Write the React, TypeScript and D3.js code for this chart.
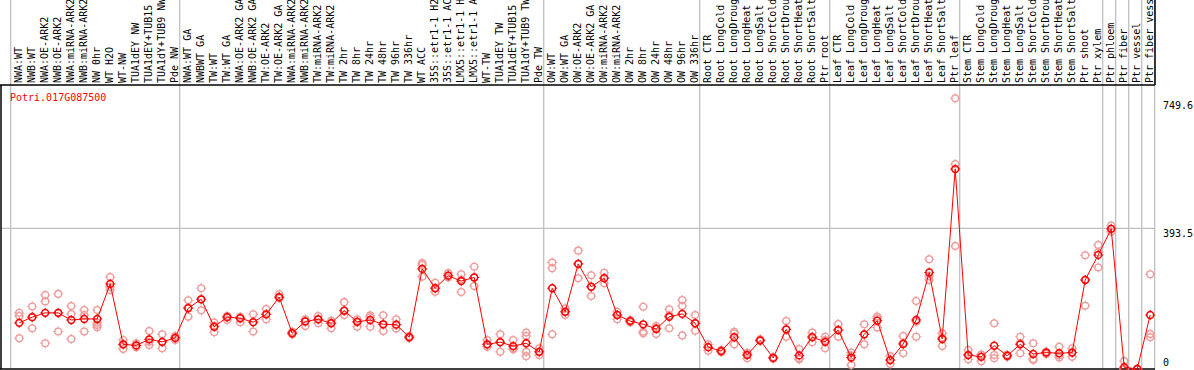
import React from "react";
import * as d3 from "d3";

const title = "Potri.017G087500";

const categories = [
  "NWA:WT", "NWB:WT", "NWA:OE-ARK2", "NWB:OE-ARK2", "NWA:miRNA-ARK2", "NWB:miRNA-ARK2",
  "NW 0hr", "WT H2O", "WT-NW", "TUA1dEY NW", "TUA1dEY+TUB15 NW", "TUA1dY+TUB9 NW", "Pde NW",
  "NWA:WT GA", "NWBWT GA", "TW:WT", "TW:WT GA", "NWA:OE-ARK2 GA", "NWB:OE-ARK2 GA",
  "TW:OE-ARK2", "TW:OE-ARK2 GA", "NWA:miRNA-ARK2", "NWB:miRNA-ARK2", "TW:miRNA-ARK2",
  "TW:miRNA-ARK2", "TW 2hr", "TW 8hr", "TW 24hr", "TW 48hr", "TW 96hr", "TW 336hr",
  "WT ACC", "35S::etr1-1 H2O", "35S::etr1-1 ACC", "LMX5::etr1-1 H2O", "LMX5::etr1-1 ACC",
  "WT-TW", "TUA1dEY TW", "TUA1dEY+TUB15 TW", "TUA1dY+TUB9 TW", "Pde TW",
  "OW:WT", "OW:WT GA", "OW:OE-ARK2", "OW:OE-ARK2 GA", "OW:miRNA-ARK2", "OW:miRNA-ARK2",
  "OW 2hr", "OW 8hr", "OW 24hr", "OW 48hr", "OW 96hr", "OW 336hr",
  "Root CTR", "Root LongCold", "Root LongDrought", "Root LongHeat", "Root LongSalt",
  "Root ShortCold", "Root ShortDrought", "Root ShortHeat", "Root ShortSalt", "Ptr root",
  "Leaf CTR", "Leaf LongCold", "Leaf LongDrought", "Leaf LongHeat", "Leaf LongSalt",
  "Leaf ShortCold", "Leaf ShortDrought", "Leaf ShortHeat", "Leaf ShortSalt", "Ptr leaf",
  "Stem CTR", "Stem LongCold", "Stem LongDrought", "Stem LongHeat", "Stem LongSalt",
  "Stem ShortCold", "Stem ShortDrought", "Stem ShortHeat", "Stem ShortSalt",
  "Ptr shoot", "Ptr xylem", "Ptr phloem", "Ptr fiber", "Ptr vessel", "Ptr fiber vessel",
];

// index of first category of each group (separator lines drawn before them), plus end
const groupStarts = [0, 13, 41, 53, 63, 73, 84, 85, 86, 87, 88];

const means = [
  129, 145, 157, 157, 137, 140, 140, 238, 69, 66, 83, 76, 87,
  170, 195, 118, 145, 142, 131, 153, 201, 100, 133, 139, 128, 163, 132, 137, 125, 124, 89,
  280, 226, 261, 246, 256, 69, 75, 64, 72, 48,
  226, 160, 294, 230, 254, 151, 134, 125, 112, 146, 154, 128,
  61, 50, 89, 39, 80, 31, 111, 38, 89, 76,
  109, 32, 97, 135, 25, 70, 137, 270, 84, 559,
  39, 34, 65, 37, 69, 42, 46, 44, 46, 249, 319,
  392, 5, 0, 151,
];

const replicates = [
  [157, 148, 86], [175, 145, 114], [207, 189, 72], [210, 157, 105], [176, 154, 84],
  [165, 151, 105], [165, 129, 117, 123], [257, 229, 221], [81, 69, 56], [72, 66, 61],
  [106, 76, 67], [97, 75, 58], [92, 87, 81],
  [192, 172, 146], [226, 195, 164], [130, 120, 103], [148, 145, 137], [146, 142, 131],
  [153, 131, 105], [168, 153, 139], [209, 201, 198], [104, 100, 97], [139, 133, 120],
  [148, 139, 128], [135, 128, 114], [187, 163, 151], [139, 132, 118], [150, 145, 118],
  [150, 125, 106], [139, 124, 113], [92, 89, 86],
  [296, 291, 258], [241, 226, 216], [268, 261, 256], [265, 250, 215], [286, 256, 232],
  [81, 69, 62], [97, 75, 48], [81, 58, 55], [102, 92, 48, 36], [58, 48, 39],
  [298, 282, 97], [170, 160, 151], [331, 294, 254], [262, 230, 204], [269, 254, 240],
  [160, 151, 139], [137, 134, 131], [174, 104, 100], [120, 115, 98], [167, 150, 114],
  [193, 176, 94], [151, 128, 107],
  [69, 61, 51], [53, 50, 47], [104, 100, 69], [45, 40, 30], [83, 80, 78], [33, 31, 29],
  [134, 110, 90], [56, 30, 27], [102, 90, 75], [90, 81, 58],
  [126, 109, 90], [46, 38, 11], [125, 97, 69], [147, 142, 116], [36, 25, 14],
  [92, 73, 44], [190, 132, 90], [307, 260, 249], [100, 88, 64], [757, 573, 344],
  [53, 39, 27], [40, 40, 22], [128, 39, 30], [40, 37, 34], [90, 72, 44], [72, 28, 25],
  [48, 46, 42], [62, 38, 32], [58, 46, 34], [318, 249, 177], [347, 326, 284],
  [401, 392, 384], [22, 0, 0], [0, 0, 0], [265, 98, 89],
];

const yTicks = [0, 393.5, 749.6];
const yTickLabels = ["0", "393.5", "749.6"];
const gridValues = [393.5];

const W = 1194;
const H = 370;
const FONT = "'DejaVu Sans Mono', monospace";
const MEAN_COLOR = "#ff0000";
const REP_COLOR = "#f09a9a";

function Marker({ cx, cy, color, r, sw }: { cx: number; cy: number; color: string; r: number; sw: number }) {
  const t = r + 1.6;
  const s = r - 0.6;
  const d = `M${cx},${cy - t}V${cy - s}M${cx},${cy + s}V${cy + t}M${cx - t},${cy}H${cx - s}M${cx + s},${cy}H${cx + t}`;
  return (
    <g>
      <circle cx={cx} cy={cy} r={r} fill="none" stroke={color} strokeWidth={sw} />
      <path d={d} stroke={color} strokeWidth={1} fill="none" />
    </g>
  );
}

export default function App() {
  const n = categories.length;
  const plotLeft = 1;
  const plotRight = 1155;
  const plotTop = 85;
  const plotBottom = 369;

  const x = d3.scaleLinear().domain([0, n - 1]).range([19.2, 19.2 + 13 * (n - 1)]);
  const y = d3.scaleLinear().domain([0, 393.5]).range([plotBottom, 228.3]);
  const sepX = (i: number) => x(i) - 8.5;

  const line = d3
    .line<number>()
    .x((_, i) => x(i))
    .y((d) => y(d));

  return (
    <svg
      width={W}
      height={H}
      style={{ position: "absolute", left: 0, top: 0, background: "#fff" }}
      fontFamily={FONT}
    >
      <rect x={0} y={0} width={W} height={H} fill="#fff" />
      {/* group separators */}
      {groupStarts.map((g) => (
        <line key={"s" + g} x1={sepX(g)} x2={sepX(g)} y1={0} y2={plotBottom} stroke="#c0c0c0" strokeWidth={1.3} />
      ))}
      {/* gridline */}
      {gridValues.map((v) => (
        <line key={"g" + v} x1={plotLeft} x2={plotRight} y1={y(v)} y2={y(v)} stroke="#c0c0c0" strokeWidth={1.3} />
      ))}
      {/* frame */}
      <line x1={0} x2={plotRight} y1={plotTop} y2={plotTop} stroke="#000" strokeWidth={1.5} />
      <line x1={0} x2={plotRight} y1={plotBottom} y2={plotBottom} stroke="#000" strokeWidth={1.5} />
      <line x1={plotLeft} x2={plotLeft} y1={plotTop} y2={plotBottom} stroke="#000" strokeWidth={1.5} />
      <line x1={plotRight} x2={plotRight} y1={0} y2={plotTop} stroke="#000" strokeWidth={1.5} />

      {/* category labels */}
      {categories.map((c, i) => (
        <text
          key={"c" + i}
          transform={`translate(${x(i) + 3.2},${plotTop - 2}) rotate(-90)`}
          fontSize={10}
          fill="#000"
        >
          {c}
        </text>
      ))}

      {/* title */}
      <text x={10} y={101} fontSize={10} fill="#ff0000">
        {title}
      </text>

      {/* y labels */}
      {yTicks.map((v, i) => (
        <text key={"y" + i} x={1163} y={Math.min(y(v) + 8.5, 366)} fontSize={10} fill="#000">
          {yTickLabels[i]}
        </text>
      ))}

      {/* replicates */}
      {replicates.map((reps, i) =>
        reps.map((v, j) => <Marker key={`r${i}-${j}`} cx={x(i)} cy={y(v)} color={REP_COLOR} r={3.4} sw={1.3} />)
      )}

      {/* mean line */}
      <path d={line(means) || ""} fill="none" stroke={MEAN_COLOR} strokeWidth={1} />

      {/* means */}
      {means.map((v, i) => (
        <Marker key={"m" + i} cx={x(i)} cy={y(v)} color={MEAN_COLOR} r={3.4} sw={1.5} />
      ))}
    </svg>
  );
}
